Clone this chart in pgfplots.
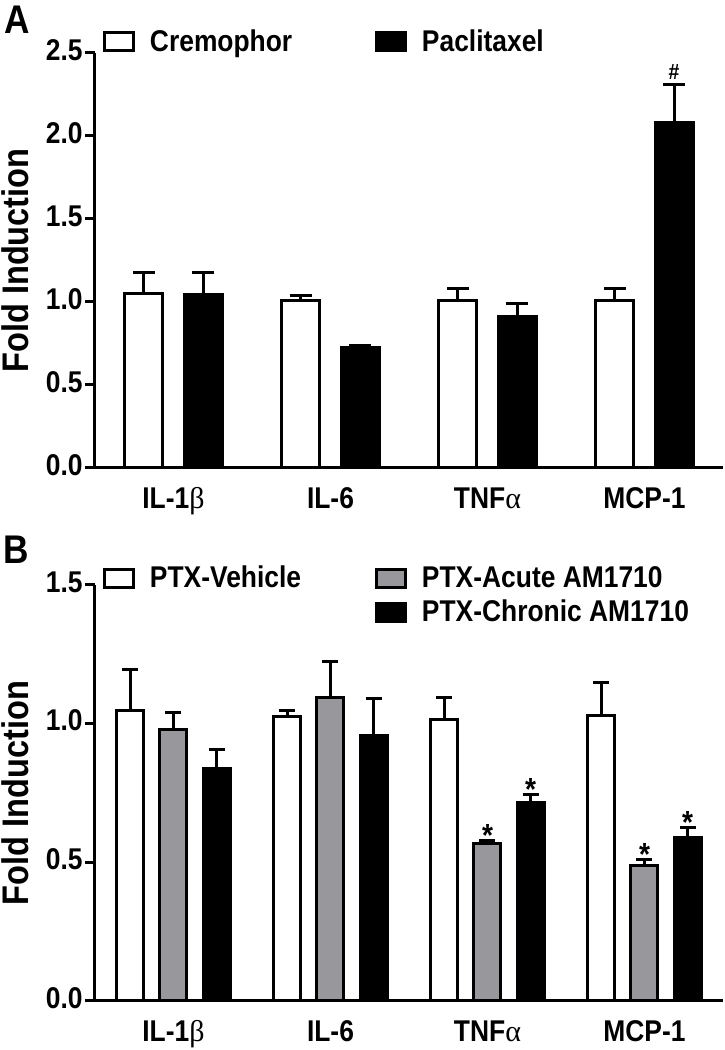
\documentclass[border=0pt]{standalone}
\usepackage{fontspec}
\setmainfont{Liberation Sans}[FakeStretch=0.88]
\newfontfamily\grk{Liberation Serif}
\usepackage{pgfplots}
\usepackage{pgfplotstable}
\pgfplotsset{compat=1.18}
\definecolor{bargray}{RGB}{152,152,156}

% Panel A
\pgfplotstableread{
x y e
0 1.05 0.13
1 1.01 0.03
2 1.01 0.07
3 1.01 0.07
}\creA
\pgfplotstableread{
x y e
0 1.045 0.135
1 0.725 0.015
2 0.915 0.075
3 2.08 0.23
}\ptxA
% Panel B
\pgfplotstableread{
x y e
0 1.046 0.149
1 1.026 0.022
2 1.014 0.082
3 1.030 0.117
}\vehB
\pgfplotstableread{
x y e
0 0.978 0.062
1 1.094 0.130
2 0.567 0.013
3 0.490 0.022
}\acuB
\pgfplotstableread{
x y e
0 0.840 0.066
1 0.956 0.134
2 0.715 0.030
3 0.590 0.036
}\chrB

\newcommand{\lab}{\fontsize{15}{18}\selectfont\bfseries}

\pgfplotsset{
  mybar/.style={ybar, bar shift=0pt, line width=1.5pt, draw=black,
    /pgfplots/error bars/y dir=plus,
    /pgfplots/error bars/y explicit,
    /pgfplots/error bars/error bar style={line width=1.5pt, black},
    /pgfplots/error bars/error mark options={rotate=90, line width=1.5pt, mark size=#1, black}},
  mybar/.default=5.5pt,
}
\pgfplotsset{
  panel/.style={
    scale only axis, width=314pt,
    xmin=-0.5, xmax=3.5, ymin=0,
    axis x line*=bottom, axis y line*=left,
    axis line style={line width=1.5pt, -},
    xtick={0,1,2,3},
    xticklabels={IL-1{\grk\mdseries β},IL-6,TNF{\grk\mdseries α},MCP-1},
    typeset ticklabels with strut,
    x tick style={draw=none},
    y tick style={line width=1.5pt, black},
    tick align=outside, major tick length=5pt,
    yticklabel style={inner sep=1pt, /pgf/number format/fixed, /pgf/number format/fixed zerofill, /pgf/number format/precision=1, /pgf/number format/assume math mode=true},
    tick label style={font=\lab},
    xticklabel style={inner sep=0pt, yshift=-2.5pt},
    ylabel={Fold Induction},
    ylabel style={font=\fontsize{18.5}{22}\selectfont\bfseries, at={(axis description cs:-0.127,0.5)}, anchor=center},
    legend cell align=left,
    legend style={draw=none, fill=none, inner sep=0pt, outer sep=0pt, font=\lab, nodes={inner sep=0pt},
      /tikz/every odd column/.append style={column sep=7.5pt}},
    legend columns=2,
  },
}
\pgfplotsset{legend image code/.code={\draw[#1, line width=1.5pt] (0.75pt,-4.5pt) rectangle (15.25pt,4.5pt);}}

\begin{document}
\begin{tikzpicture}
\path[use as bounding box] (0,0) rectangle (362pt,525pt);

\node[font=\fontsize{20}{24}\selectfont\bfseries] at (8.5pt,515pt) {A};
\node[font=\fontsize{20}{24}\selectfont\bfseries] at (8pt,250pt) {B};

% Panel A
\begin{axis}[panel, at={(47.5pt,291pt)}, anchor=south west, height=207.5pt,
  ymax=2.5, ytick={0,0.5,1,1.5,2,2.5},
  legend style={at={(axis description cs:0,1)}, anchor=west, xshift=4pt, yshift=5.5pt}]
\addplot[mybar, fill=white, bar width=19pt, forget plot] table[x expr=\thisrow{x}-0.188,y=y,y error=e]{\creA};
\addplot[mybar, fill=black, bar width=19pt, forget plot] table[x expr=\thisrow{x}+0.188,y=y,y error=e]{\ptxA};
\addlegendimage{fill=white, draw=black}
\addlegendentry{\makebox[112.5pt][l]{Cremophor}}
\addlegendimage{fill=black, draw=black}
\addlegendentry{Paclitaxel}
\node[anchor=base, font=\fontsize{11}{13}\selectfont\bfseries] at ([yshift=2.6pt]axis cs:3.188,2.31) {\#};
\end{axis}

% Panel B
\begin{axis}[panel, at={(47.5pt,24.5pt)}, anchor=south west, height=208pt,
  ymax=1.5, ytick={0,0.5,1,1.5},
  legend style={at={(axis description cs:0,1)}, anchor=north west, xshift=4pt, yshift=9.5pt, row sep=4.5pt}]
\addplot[mybar=4pt, fill=white, bar width=13.5pt, forget plot] table[x expr=\thisrow{x}-0.274,y=y,y error=e]{\vehB};
\addplot[mybar=4pt, fill=bargray, bar width=13.5pt, forget plot] table[x=x,y=y,y error=e]{\acuB};
\addplot[mybar=4pt, fill=black, bar width=13.5pt, forget plot] table[x expr=\thisrow{x}+0.274,y=y,y error=e]{\chrB};
\addlegendimage{fill=white, draw=black}
\addlegendentry{\makebox[112.5pt][l]{PTX-Vehicle}}
\addlegendimage{fill=bargray, draw=black}
\addlegendentry{PTX-Acute AM1710}
\addlegendimage{empty legend}
\addlegendentry{}
\addlegendimage{fill=black, draw=black}
\addlegendentry{PTX-Chronic AM1710}
\node[anchor=base, font=\fontsize{16}{18}\selectfont\bfseries] at ([yshift=-3pt]axis cs:2,0.580) {*};
\node[anchor=base, font=\fontsize{16}{18}\selectfont\bfseries] at ([yshift=-3pt]axis cs:2.274,0.745) {*};
\node[anchor=base, font=\fontsize{16}{18}\selectfont\bfseries] at ([yshift=-3pt]axis cs:3,0.512) {*};
\node[anchor=base, font=\fontsize{16}{18}\selectfont\bfseries] at ([yshift=-3pt]axis cs:3.274,0.626) {*};
\end{axis}
\end{tikzpicture}
\end{document}
